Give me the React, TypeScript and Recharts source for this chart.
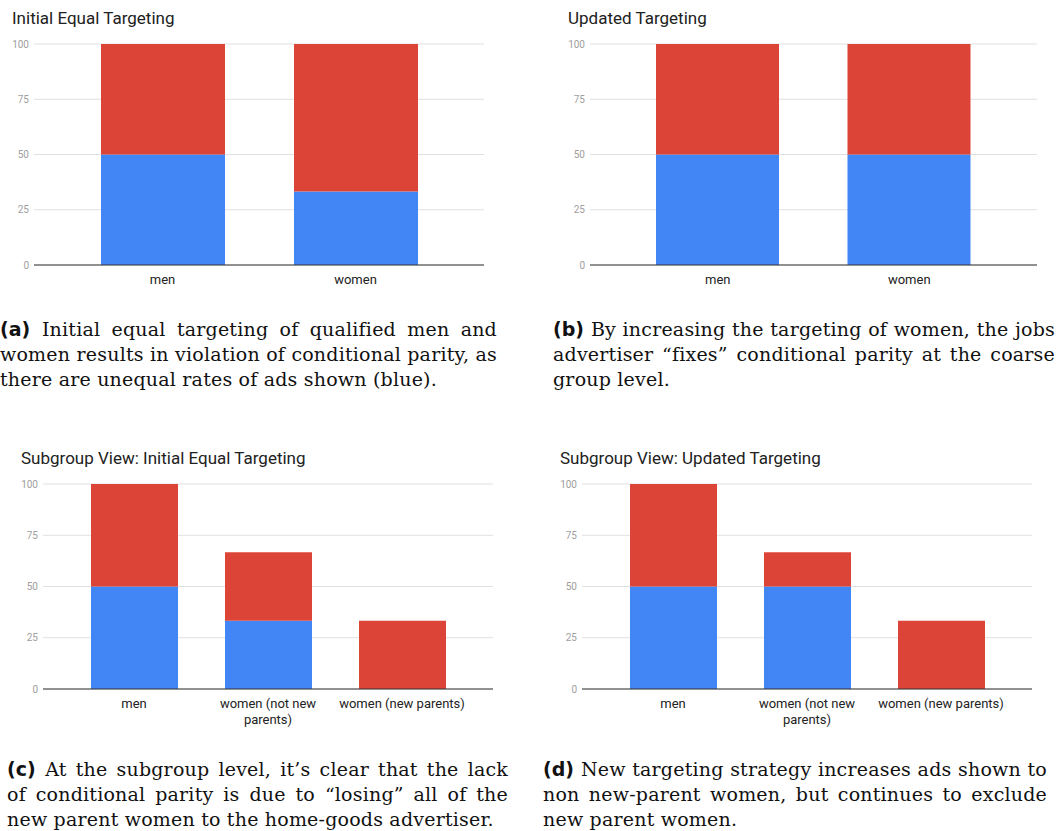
import React from "react";
import { BarChart, Bar, XAxis, YAxis, CartesianGrid } from "recharts";

const yTicks = [0, 25, 50, 75, 100];

const groupCategories = ["men", "women"];
const groupTickLines = [["men"], ["women"]];
const initialShown = [50, 33.3];
const initialNotShown = [50, 66.7];
const updatedShown = [50, 50];
const updatedNotShown = [50, 50];

const subgroupCategories = ["men", "women (not new parents)", "women (new parents)"];
const subgroupTickLines = [["men"], ["women (not new", "parents)"], ["women (new parents)"]];
const subInitialShown = [50, 33.3, 0];
const subInitialNotShown = [50, 33.4, 33.3];
const subUpdatedShown = [50, 50, 0];
const subUpdatedNotShown = [50, 16.7, 33.3];

const BLUE = "#4285f4";
const RED = "#db4437";

function makeRows(categories: string[], shown: number[], notShown: number[]) {
  return categories.map((c, i) => ({ category: c, shown: shown[i], notShown: notShown[i] }));
}

function makeTick(categories: string[], tickLines: string[][]) {
  return (props: any) => {
    const { x, y, payload } = props;
    const idx = categories.indexOf(payload.value);
    const lines = idx >= 0 ? tickLines[idx] : [String(payload.value)];
    return (
      <text x={x} y={y} textAnchor="middle" fill="#222" fontSize={13} fontFamily="Roboto">
        {lines.map((l, i) => (
          <tspan key={i} x={x} dy={i === 0 ? "0.71em" : 16}>
            {l}
          </tspan>
        ))}
      </text>
    );
  };
}

type PanelProps = {
  left: number;
  top: number;
  width: number;
  height: number;
  title: string;
  titleLeft: number;
  categories: string[];
  tickLines: string[][];
  shown: number[];
  notShown: number[];
  yAxisWidth: number;
  marginRight: number;
  plotBottom: number;
  barSize: number;
  sidePad: number;
};

function Panel(p: PanelProps) {
  const rows = makeRows(p.categories, p.shown, p.notShown);
  return (
    <>
      <div
        style={{
          position: "absolute",
          left: p.titleLeft,
          top: p.top + 8,
          fontFamily: "Roboto",
          fontSize: 17,
          lineHeight: "20px",
          color: "#212121",
          whiteSpace: "nowrap",
        }}
      >
        {p.title}
      </div>
      <div style={{ position: "absolute", left: p.left, top: p.top }}>
        <BarChart
          width={p.width}
          height={p.height}
          data={rows}
          margin={{ top: 44, right: p.marginRight, left: 0, bottom: p.height - p.plotBottom - 40 }}
        >
          <CartesianGrid vertical={false} stroke="#e0e0e0" />
          <XAxis
            dataKey="category"
            height={40}
            padding={{ left: p.sidePad, right: p.sidePad }}
            axisLine={{ stroke: "#333" }}
            tickLine={false}
            tickSize={0}
            tickMargin={10}
            interval={0}
            tick={makeTick(p.categories, p.tickLines)}
          />
          <YAxis
            width={p.yAxisWidth}
            domain={[0, 100]}
            ticks={yTicks}
            axisLine={false}
            tickLine={false}
            tickSize={0}
            tickMargin={5}
            tick={{ fill: "#9e9e9e", fontSize: 10, fontFamily: "Roboto" }}
          />
          <Bar dataKey="shown" stackId="a" fill={BLUE} barSize={p.barSize} isAnimationActive={false} />
          <Bar dataKey="notShown" stackId="a" fill={RED} barSize={p.barSize} isAnimationActive={false} />
        </BarChart>
      </div>
    </>
  );
}

type CaptionProps = { left: number; top: number; width: number; label: string; lines: string[] };

function Caption({ left, top, width, label, lines }: CaptionProps) {
  return (
    <div
      style={{
        position: "absolute",
        left,
        top,
        width,
        fontFamily: "'DejaVu Serif', serif",
        fontSize: 19,
        letterSpacing: "0.2px",
        lineHeight: "25px",
        color: "#111",
      }}
    >
      {lines.map((l, i) => (
        <div
          key={i}
          style={{
            textAlign: "justify",
            textAlignLast: i < lines.length - 1 ? "justify" : "left",
            whiteSpace: "nowrap",
          }}
        >
          {i === 0 && (
            <span style={{ fontFamily: "'DejaVu Sans', sans-serif", fontWeight: "bold", letterSpacing: 0 }}>{label} </span>
          )}
          {l}
        </div>
      ))}
    </div>
  );
}

export default function App() {
  return (
    <div style={{ position: "absolute", left: 0, top: 0, width: 1056, height: 831, background: "#fff", overflow: "hidden" }}>
      <Panel
        left={0}
        top={0}
        width={500}
        height={300}
        title="Initial Equal Targeting"
        titleLeft={12}
        categories={groupCategories}
        tickLines={groupTickLines}
        shown={initialShown}
        notShown={initialNotShown}
        yAxisWidth={34}
        marginRight={16}
        plotBottom={265}
        barSize={124}
        sidePad={32}
      />
      <Panel
        left={550}
        top={0}
        width={500}
        height={300}
        title="Updated Targeting"
        titleLeft={568}
        categories={groupCategories}
        tickLines={groupTickLines}
        shown={updatedShown}
        notShown={updatedNotShown}
        yAxisWidth={40}
        marginRight={13}
        plotBottom={265}
        barSize={123}
        sidePad={32}
      />
      <Panel
        left={0}
        top={440}
        width={510}
        height={300}
        title="Subgroup View: Initial Equal Targeting"
        titleLeft={21}
        categories={subgroupCategories}
        tickLines={subgroupTickLines}
        shown={subInitialShown}
        notShown={subInitialNotShown}
        yAxisWidth={43}
        marginRight={17}
        plotBottom={249}
        barSize={87}
        sidePad={24}
      />
      <Panel
        left={540}
        top={440}
        width={510}
        height={300}
        title="Subgroup View: Updated Targeting"
        titleLeft={560}
        categories={subgroupCategories}
        tickLines={subgroupTickLines}
        shown={subUpdatedShown}
        notShown={subUpdatedNotShown}
        yAxisWidth={42}
        marginRight={18}
        plotBottom={249}
        barSize={87}
        sidePad={24}
      />
      <Caption
        left={0}
        top={317}
        width={497}
        label="(a)"
        lines={[
          "Initial equal targeting of qualified men and",
          "women results in violation of conditional parity, as",
          "there are unequal rates of ads shown (blue).",
        ]}
      />
      <Caption
        left={553}
        top={317}
        width={502}
        label="(b)"
        lines={[
          "By increasing the targeting of women, the jobs",
          "advertiser \u201cfixes\u201d conditional parity at the coarse",
          "group level.",
        ]}
      />
      <Caption
        left={7}
        top={757}
        width={501}
        label="(c)"
        lines={[
          "At the subgroup level, it\u2019s clear that the lack",
          "of conditional parity is due to \u201closing\u201d all of the",
          "new parent women to the home-goods advertiser.",
        ]}
      />
      <Caption
        left={543}
        top={757}
        width={504}
        label="(d)"
        lines={[
          "New targeting strategy increases ads shown to",
          "non new-parent women, but continues to exclude",
          "new parent women.",
        ]}
      />
    </div>
  );
}
